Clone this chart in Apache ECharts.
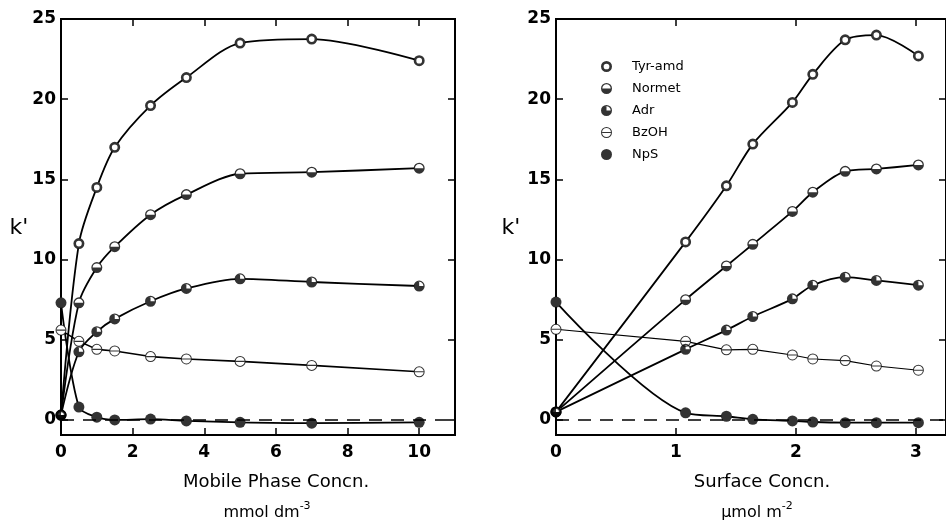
<!DOCTYPE html>
<html>
<head>
<meta charset="utf-8">
<script src="https://cdn.jsdelivr.net/npm/echarts@6/dist/echarts.min.js"></script>
<style>
html, body { margin: 0; padding: 0; background: #fff; }
#main { width: 946px; height: 521px; }
</style>
</head>
<body>
<div id="main"></div>
<script>
// compounds, in legend order
var names = ['Tyr-amd', 'Normet', 'Adr', 'BzOH', 'NpS']

// x values
var mobileConc = [0, 0.5, 1, 1.5, 2.5, 3.5, 5, 7, 10]
var surfaceConc = [0, 1.08, 1.42, 1.64, 1.97, 2.14, 2.41, 2.67, 3.02]

// k' (against mobile phase concn.)
var tyrLeft = [0.3, 11.0, 14.5, 17.0, 19.6, 21.35, 23.5, 23.75, 22.4]
var normetLeft = [0.3, 7.3, 9.5, 10.8, 12.8, 14.05, 15.35, 15.45, 15.7]
var adrLeft = [0.3, 4.25, 5.5, 6.3, 7.4, 8.2, 8.8, 8.6, 8.35]
var bzohLeft = [5.6, 4.9, 4.4, 4.3, 3.95, 3.8, 3.65, 3.4, 3.0]
var npsLeft = [7.3, 0.8, 0.17, 0.0, 0.05, -0.06, -0.15, -0.2, -0.15]

// k' (against surface concn.)
var tyrRight = [0.5, 11.1, 14.6, 17.2, 19.8, 21.55, 23.7, 24.0, 22.7]
var normetRight = [0.5, 7.5, 9.6, 10.95, 13.0, 14.2, 15.5, 15.65, 15.9]
var adrRight = [0.5, 4.4, 5.6, 6.45, 7.55, 8.4, 8.9, 8.7, 8.4]
var bzohRight = [5.65, 4.9, 4.37, 4.4, 4.05, 3.8, 3.7, 3.36, 3.1]
var npsRight = [7.35, 0.44, 0.23, 0.04, -0.06, -0.13, -0.17, -0.17, -0.17]

// tick labels
var leftXTicks = [0, 2, 4, 6, 8, 10]
var rightXTicks = [0, 1, 2, 3]
var yTicks = [0, 5, 10, 15, 20, 25]

var font = 'DejaVu Sans'

// marker shapes (20x20 box)
var ring = 'M0,10A10,10 0 1,1 20,10A10,10 0 1,1 0,10Z'
function hole(r) {
	return 'M' + (10 - r) + ',10A' + r + ',' + r + ' 0 1,0 ' + (10 + r) + ',10A' + r + ',' + r + ' 0 1,0 ' + (10 - r) + ',10Z'
}
var symbols = [
	'path://' + ring + hole(5.2),
	'path://' + ring + hole(7.6) + 'M20,10A10,10 0 0,1 0,10Z',
	'path://' + ring + hole(7.6) + 'M10,10L20,10A10,10 0 1,1 10,0Z',
	'path://' + ring + hole(8.2) + 'M2,9L18,9L18,11L2,11Z',
	'circle'
]

var panels = [
	{ x: mobileConc, ys: [tyrLeft, normetLeft, adrLeft, bzohLeft, npsLeft], bzohWidth: 1.6 },
	{ x: surfaceConc, ys: [tyrRight, normetRight, adrRight, bzohRight, npsRight], bzohWidth: 1.1 }
]

var series = []
panels.forEach(function(p, pi) {
	p.ys.forEach(function(ys, i) {
		var pts = p.x.map(function(x, j) { return [x, ys[j]] })
		var line = {
			type: 'line',
			xAxisIndex: pi * 2,
			yAxisIndex: pi * 2,
			data: pts,
			smooth: i == 3 ? false : 0.3,
			symbol: 'circle',
			symbolSize: 10,
			itemStyle: { color: '#fff' },
			lineStyle: { color: '#000', width: i == 3 ? p.bzohWidth : 1.8 },
			emphasis: { disabled: true },
			z: 2
		}
		if (i == 0) {
			line.markLine = {
				silent: true,
				symbol: 'none',
				label: { show: false },
				lineStyle: { color: '#000', type: [13, 9], width: 1.5 },
				data: [{ yAxis: 0 }]
			}
		}
		series.push(line)
		series.push({
			type: 'scatter',
			name: names[i],
			xAxisIndex: pi * 2,
			yAxisIndex: pi * 2,
			data: pts,
			symbol: symbols[i],
			symbolSize: 11,
			itemStyle: { color: '#000' },
			emphasis: { disabled: true },
			z: 3
		})
	})
})

var tickStyle = { color: '#000', width: 1.5 }
var labelStyle = { color: '#000', fontFamily: font, fontWeight: 'bold', fontSize: 17 }

function xAxes(gi, max, ticks) {
	return [{
		type: 'value', gridIndex: gi, min: 0, max: max, position: 'bottom',
		axisLine: { show: false, onZero: false },
		axisTick: { inside: true, length: 7, customValues: ticks, lineStyle: tickStyle },
		axisLabel: Object.assign({ customValues: ticks, margin: 9 }, labelStyle),
		splitLine: { show: false }
	}, {
		type: 'value', gridIndex: gi, min: 0, max: max, position: 'top',
		axisLine: { show: false, onZero: false },
		axisTick: { inside: true, length: 7, customValues: ticks, lineStyle: tickStyle },
		axisLabel: { show: false },
		splitLine: { show: false }
	}]
}
function yAxes(gi) {
	return [{
		type: 'value', gridIndex: gi, min: -0.94, max: 25, position: 'left',
		axisLine: { show: false, onZero: false },
		axisTick: { inside: true, length: 7, customValues: yTicks, lineStyle: tickStyle },
		axisLabel: Object.assign({ customValues: yTicks, margin: 5 }, labelStyle),
		splitLine: { show: false }
	}, {
		type: 'value', gridIndex: gi, min: -0.94, max: 25, position: 'right',
		axisLine: { show: false, onZero: false },
		axisTick: { inside: true, length: 7, customValues: yTicks, lineStyle: tickStyle },
		axisLabel: { show: false },
		splitLine: { show: false }
	}]
}

var chart = echarts.init(document.getElementById('main'))
chart.setOption({
	animation: false,
	backgroundColor: '#fff',
	grid: [
		{ left: 61, top: 19, width: 394, height: 416, show: true, borderColor: '#000', borderWidth: 2 },
		{ left: 556, top: 19, width: 391, height: 416, show: true, borderColor: '#000', borderWidth: 2 }
	],
	xAxis: xAxes(0, 11, leftXTicks).concat(xAxes(1, 3.25, rightXTicks)),
	yAxis: yAxes(0).concat(yAxes(1)),
	legend: {
		left: 596, top: 55, orient: 'vertical',
		itemWidth: 11, itemHeight: 11, itemGap: 9,
		textStyle: { fontFamily: font, fontSize: 13, color: '#000', padding: [0, 0, 0, 15] },
		data: names.map(function(n, i) { return { name: n, icon: symbols[i] } }),
		selectedMode: false
	},
	graphic: [
		{ type: 'text', x: 276, y: 482, style: { text: 'Mobile Phase Concn.', font: '18px "DejaVu Sans"', fill: '#000', align: 'center', verticalAlign: 'middle' } },
		{ type: 'text', x: 267, y: 511, style: { text: '{a|mmol dm}{b|-3}', fill: '#000', align: 'center', verticalAlign: 'middle',
			rich: { a: { fontFamily: font, fontSize: 16, lineHeight: 20, verticalAlign: 'bottom' }, b: { fontFamily: font, fontSize: 11, lineHeight: 20, verticalAlign: 'top' } } } },
		{ type: 'text', x: 762, y: 482, style: { text: 'Surface Concn.', font: '18px "DejaVu Sans"', fill: '#000', align: 'center', verticalAlign: 'middle' } },
		{ type: 'text', x: 757, y: 511, style: { text: '{a|µmol m}{b|-2}', fill: '#000', align: 'center', verticalAlign: 'middle',
			rich: { a: { fontFamily: font, fontSize: 16, lineHeight: 20, verticalAlign: 'bottom' }, b: { fontFamily: font, fontSize: 11, lineHeight: 20, verticalAlign: 'top' } } } },
		{ type: 'text', x: 19, y: 228, style: { text: "k'", font: '22px "DejaVu Sans"', fill: '#000', align: 'center', verticalAlign: 'middle' } },
		{ type: 'text', x: 511, y: 228, style: { text: "k'", font: '22px "DejaVu Sans"', fill: '#000', align: 'center', verticalAlign: 'middle' } }
	],
	series: series
})
</script>
</body>
</html>
